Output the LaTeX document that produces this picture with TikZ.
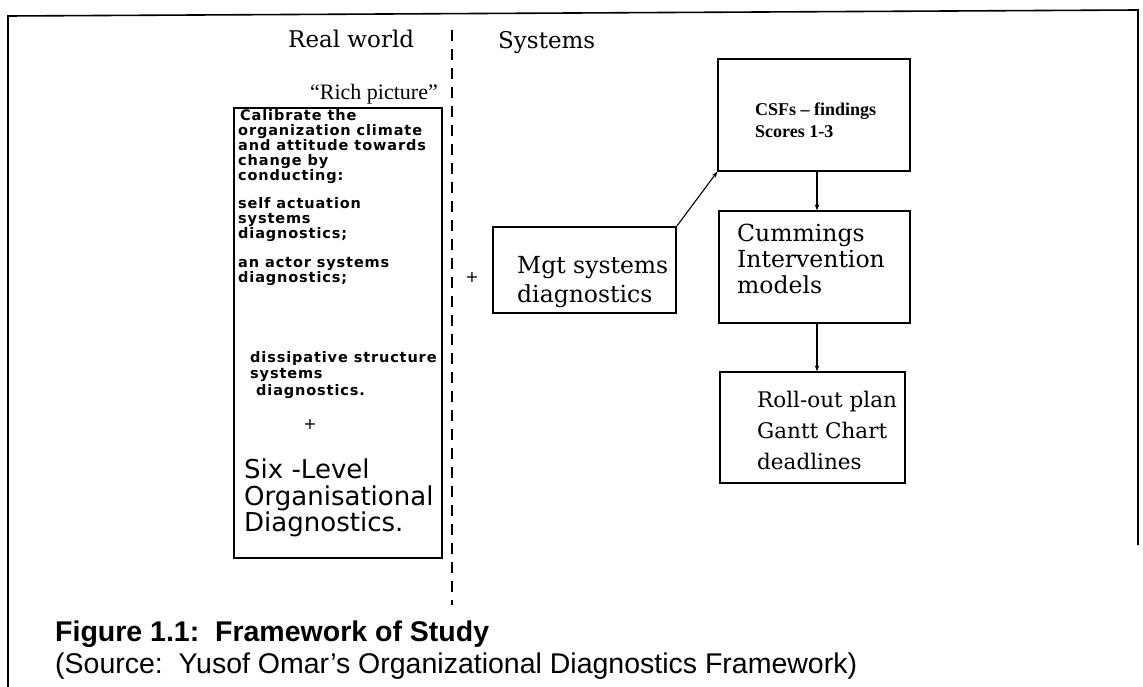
\documentclass[tikz,border=0pt]{standalone}
\usepackage{fontspec}
\setmainfont{Liberation Serif}
\setsansfont{Liberation Sans}
\newfontfamily\djserif{DejaVu Serif}
\newfontfamily\djsans{DejaVu Sans}
\newfontfamily\djsanswide{DejaVu Sans}[LetterSpace=6]
\usetikzlibrary{arrows.meta}
\begin{document}
\begin{tikzpicture}[x=1pt,y=-1pt,
  box/.style={draw, line width=1.3pt, inner sep=0pt},
  arr/.style={-{Stealth[length=6pt,width=4.5pt]}, line width=1.1pt},
  small/.style={font=\djsanswide\bfseries\fontsize{14.5}{15}\selectfont, anchor=base west, inner sep=0pt},
  big/.style={font=\djsans\fontsize{26}{28}\selectfont, anchor=base west, inner sep=0pt},
  ser/.style={font=\djserif\fontsize{23.5}{25}\selectfont, anchor=base west, inner sep=0pt},
  ser2/.style={font=\djserif\fontsize{21.5}{25}\selectfont, anchor=base west, inner sep=0pt},
  csft/.style={font=\bfseries\fontsize{18}{20}\selectfont, anchor=base west, inner sep=0pt},
  head/.style={font=\djserif\fontsize{23}{26}\selectfont, anchor=base west, inner sep=0pt},
  plus/.style={font=\djsans\fontsize{16}{16}\selectfont, inner sep=0pt}]
\useasboundingbox (0,0) rectangle (1143,687);
\fill[white] (0,0) rectangle (1143,687);
% frame
\coordinate (fbl) at (8,687);
\coordinate (ftl) at (8,16);
\coordinate (ftr) at (1138,10);
\coordinate (fbr) at (1138,545);
\draw[line width=1.6pt] (fbl) -- (ftl) -- (ftr) -- (fbr);
% dashed divider
\coordinate (dtop) at (452,30);
\coordinate (dbot) at (452,605);
\draw[line width=1.8pt, dash pattern=on 11pt off 8pt] (dtop) -- (dbot);
% headings
\node[head] (rw) at (288,48) {Real world};
\node[head] (sy) at (498,49) {Systems};
\node[font=\fontsize{22}{26}\selectfont, anchor=base east, inner sep=0pt] (rp) at (438,100) {``Rich picture''};
% left box
\node[box, minimum width=208pt, minimum height=450pt] (left) at (338,333) {};
\node[small] (l1) at (240,121) {Calibrate the};
\node[small] (l2) at (238,136) {organization climate};
\node[small] (l3) at (238,151) {and attitude towards};
\node[small] (l4) at (238,166) {change by};
\node[small] (l5) at (238,181) {conducting:};
\node[small] (l6) at (238,209) {self actuation};
\node[small] (l7) at (238,224) {systems};
\node[small] (l8) at (238,239) {diagnostics;};
\node[small] (l9) at (238,267) {an actor systems};
\node[small] (l10) at (238,282) {diagnostics;};
\node[small] (l11) at (250,362) {dissipative structure};
\node[small] (l12) at (250,378) {systems};
\node[small] (l13) at (256,395) {diagnostics.};
\node[plus] (lp) at (310,424) {+};
\node[big] (b1) at (244,478) {Six -Level};
\node[big] (b2) at (244,505) {Organisational};
\node[big] (b3) at (244,531) {Diagnostics.};
% plus beside divider
\node[plus] (pp) at (472,277) {+};
% right boxes
\node[box, minimum width=183pt, minimum height=86pt] (mgt) at (584.5,270) {};
\node[ser] (m1) at (517,273) {Mgt systems};
\node[ser] (m2) at (517,302) {diagnostics};
\node[box, minimum width=192pt, minimum height=112pt] (csf) at (814,115) {};
\node[csft] (c1) at (755,116) {CSFs -- findings};
\node[csft] (c2) at (755,138) {Scores 1-3};
\node[box, minimum width=191pt, minimum height=112pt] (cum) at (814.5,267) {};
\node[ser] (k1) at (737,241) {Cummings};
\node[ser] (k2) at (737,267) {Intervention};
\node[ser] (k3) at (737,293) {models};
\node[box, minimum width=185pt, minimum height=111pt] (roll) at (812.5,427.5) {};
\node[ser2] (r1) at (757,407) {Roll-out plan};
\node[ser2] (r2) at (757,438) {Gantt Chart};
\node[ser2] (r3) at (757,469) {deadlines};
% connectors
\draw[arr] (mgt.north east) -- (csf.south west);
\draw[arr] (csf.south -| 817,0) -- (cum.north -| 817,0);
\draw[arr] (cum.south -| 817,0) -- (roll.north -| 817,0);
% caption
\node[font=\sffamily\bfseries\fontsize{28.5}{30}\selectfont, anchor=base west, inner sep=0pt] (cap1) at (55,641) {Figure 1.1:\ \ Framework of Study};
\node[font=\sffamily\fontsize{28.5}{30}\selectfont, anchor=base west, inner sep=0pt] (cap2) at (55,673) {(Source:\ \ Yusof Omar's Organizational Diagnostics Framework)};
\end{tikzpicture}
\end{document}
